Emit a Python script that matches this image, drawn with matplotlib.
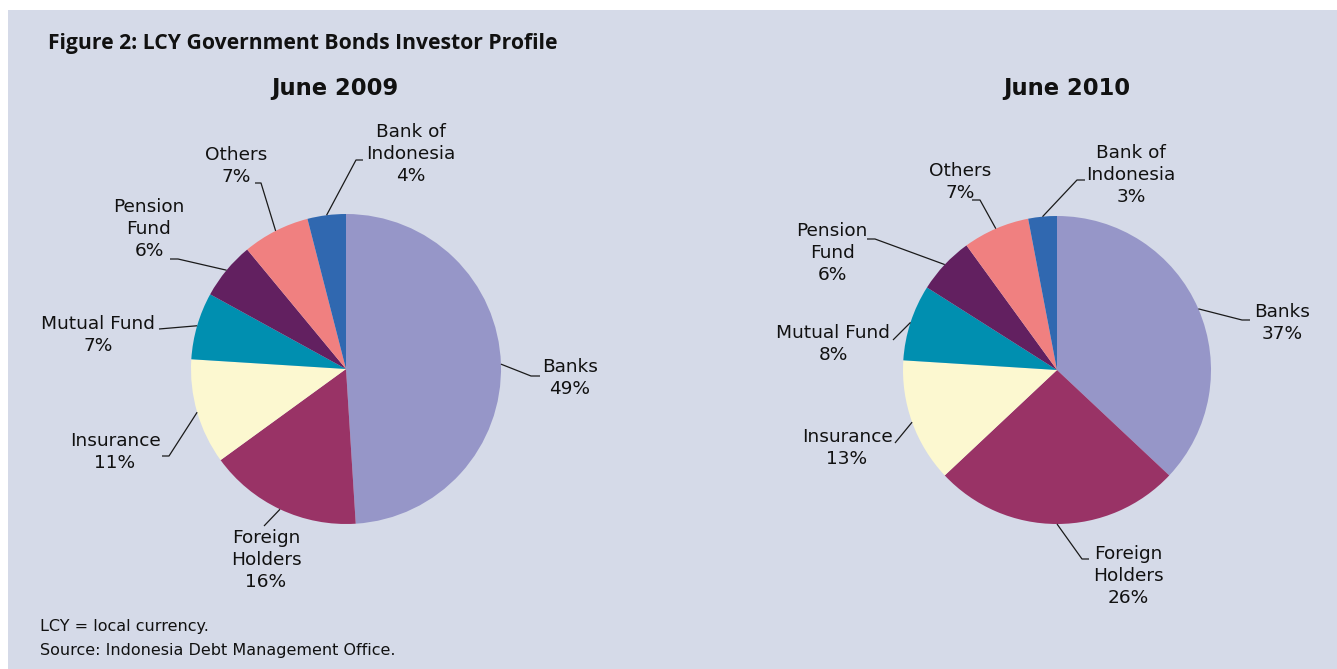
import numpy as np
import matplotlib
matplotlib.use("Agg")
import matplotlib.pyplot as plt
from matplotlib.patches import Rectangle

# investor groups and shares (%) of LCY government bonds
investors = ['Banks', 'Foreign\nHolders', 'Insurance', 'Mutual Fund',
             'Pension\nFund', 'Others', 'Bank of\nIndonesia']
share_2009 = [49, 16, 11, 7, 6, 7, 4]
share_2010 = [37, 26, 13, 8, 6, 7, 3]
colors = ['#9696C8', '#993366', '#FCF8D0', '#008FB0', '#622060', '#F08080', '#3068B0']

W, H = 1337, 669
BG = '#D5DAE8'
TXT = '#111111'

fig = plt.figure(figsize=(W / 100, H / 100), dpi=100)
ax = fig.add_axes([0, 0, 1, 1])

def py(y):
    # pixel rows counted from the top
    return H - y

# label layout: text centre, then leader-line points from the wedge outward
layout_2009 = [
    ((570, 378), [(531, 376), (540, 376)]),
    ((266, 560), [(264, 526)]),
    ((115, 452), [(169, 456), (162, 456)]),
    ((98, 335), [(159, 329)]),
    ((149, 229), [(178, 259), (170, 259)]),
    ((236, 166), [(261, 183), (255, 183)]),
    ((411, 154), [(356, 160), (363, 160)]),
]
layout_2010 = [
    ((1282, 323), [(1242, 320), (1250, 320)]),
    ((1128, 576), [(1082, 559), (1089, 559)]),
    ((847, 448), [(895, 443)]),
    ((833, 344), [(893, 340)]),
    ((832, 253), [(875, 239), (867, 239)]),
    ((960, 182), [(980, 200), (972, 200)]),
    ((1131, 175), [(1077, 180), (1085, 180)]),
]


def draw_pie(values, cx, cy, r, layout, title, tx):
    ax.pie(values, colors=colors, startangle=90, counterclock=False,
           radius=r, center=(cx, py(cy)), frame=True,
           wedgeprops=dict(linewidth=0))
    total = float(sum(values))
    cum = 0.0
    for name, v, (pos, pts) in zip(investors, values, layout):
        mid = 90 - (cum + v / 2) / total * 360
        cum += v
        x0 = cx + r * np.cos(np.radians(mid))
        y0 = py(cy) + r * np.sin(np.radians(mid))
        xs = [x0] + [p[0] for p in pts]
        ys = [y0] + [py(p[1]) for p in pts]
        ax.plot(xs, ys, color='#1a1a1a', lw=0.9, solid_capstyle='butt')
        ax.text(pos[0], py(pos[1]), f'{name}\n{v}%', ha='center', va='center',
                fontsize=13.3, color=TXT, linespacing=1.28)
    ax.text(tx, py(88), title, ha='center', va='center', fontsize=16.3,
            fontweight='bold', color=TXT, family='DejaVu Sans')


ax.add_patch(Rectangle((8, 0), W - 8, H - 10, facecolor=BG, edgecolor='none', zorder=0))

draw_pie(share_2009, 346, 369, 155, layout_2009, 'June 2009', 335)
draw_pie(share_2010, 1057, 370, 154, layout_2010, 'June 2010', 1067)

ax.text(48, py(43), 'Figure 2: LCY Government Bonds Investor Profile', ha='left',
        va='center', fontsize=15.2, fontweight='bold', color=TXT,
        family='Open Sans')
ax.text(40, py(627), 'LCY = local currency.', ha='left', va='center',
        fontsize=11.5, color=TXT)
ax.text(40, py(650), 'Source: Indonesia Debt Management Office.', ha='left',
        va='center', fontsize=11.5, color=TXT)

ax.set_xlim(0, W)
ax.set_ylim(0, H)
ax.set_aspect('auto')
ax.axis('off')
fig.patch.set_facecolor('white')

fig.savefig('out.png', dpi=100, facecolor='white')
